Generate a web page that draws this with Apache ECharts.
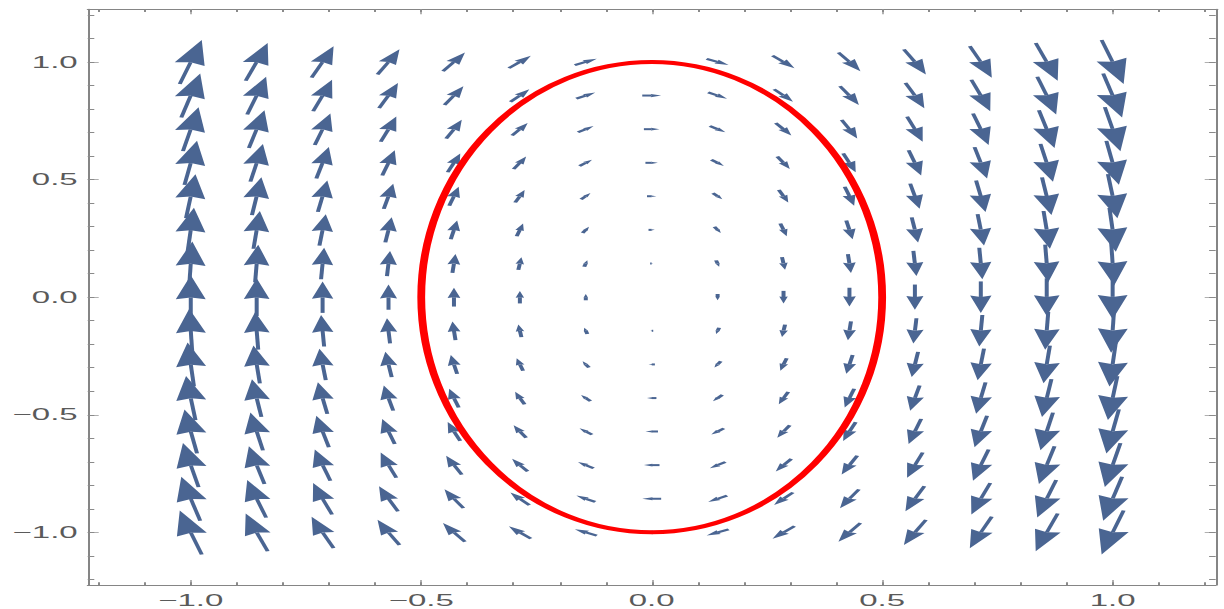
<!DOCTYPE html>
<html>
<head>
<meta charset="utf-8">
<script src="https://cdn.jsdelivr.net/npm/echarts@6/dist/echarts.min.js"></script>
<style>
html,body{margin:0;padding:0;background:#fff;overflow:hidden}
#chart{width:612px;height:609px;transform:scaleX(2);transform-origin:0 0}
</style>
</head>
<body>
<div id="chart"></div>
<script>
// ---- data ----
// grid positions of the arrows (x and y)
const gridX = [-1.0,-0.857,-0.714,-0.571,-0.429,-0.286,-0.143,0.0,0.143,0.286,0.429,0.571,0.714,0.857,1.0];
const gridY = [-1.0,-0.857,-0.714,-0.571,-0.429,-0.286,-0.143,0.0,0.143,0.286,0.429,0.571,0.714,0.857,1.0];
// horizontal vector component, one value per row (bottom to top)
const uByRow = [-1.0,-0.86,-0.71,-0.57,-0.43,-0.29,-0.14,0.0,0.14,0.29,0.43,0.57,0.71,0.86,1.0];
// vertical vector component, one value per column (left to right)
const vByCol = [4.0,3.43,2.86,2.29,1.71,1.14,0.57,0.0,-0.57,-1.14,-1.71,-2.29,-2.86,-3.43,-4.0];
// red ellipse: centre and semi-axes
const ellipseCenter = [0, 0];
const ellipseRadii = [0.5, 1.0];
// axis ticks
const axisMin = -1.2236, axisMax = 1.2236;
const majorTicks = [-1.0,-0.5,0.0,0.5,1.0];
const minorTicks = [-1.2,-1.1,-1.0,-0.9,-0.8,-0.7,-0.6,-0.5,-0.4,-0.3,-0.2,-0.1,0.0,0.1,0.2,0.3,0.4,0.5,0.6,0.7,0.8,0.9,1.0,1.1,1.2];

// ---- styles ----
const ARROW_COLOR = '#4a6592';
const PX_PER_UNIT = 11;      // screen length of a unit vector
const FRAME = '#858585';
const MAJOR_TICK = '#b0b0b0';
const MINOR_TICK = '#8a8a8a';
const LABEL = '#5a5a5a';
const FONT = 'Liberation Sans';

const arrowData = [];
for (let j = 0; j < gridY.length; j++) {
  for (let i = 0; i < gridX.length; i++) {
    arrowData.push([gridX[i], gridY[j], uByRow[j], vByCol[i]]);
  }
}

function fmt(v) {
  return v.toFixed(1).replace('-', '\u2212');
}

function arrowItem(params, api) {
  const p = api.coord([api.value(0), api.value(1)]);
  const dx = PX_PER_UNIT * api.value(2);
  const dy = -PX_PER_UNIT * api.value(3);
  const L = Math.hypot(dx, dy);
  if (L < 0.3) return null;
  const ux = dx / L, uy = dy / L, nx = -uy, ny = ux;
  const tail = [p[0] - dx / 2, p[1] - dy / 2];
  const tip = [p[0] + dx / 2, p[1] + dy / 2];
  const hl = 0.55 * L, hw = 0.34 * L;
  const base = [tip[0] - ux * hl, tip[1] - uy * hl];
  const notch = [tip[0] - ux * hl * 0.92, tip[1] - uy * hl * 0.92];
  const pts = [tip, [base[0] + nx * hw / 2, base[1] + ny * hw / 2], notch, [base[0] - nx * hw / 2, base[1] - ny * hw / 2]];
  return {
    type: 'group',
    children: [
      { type: 'line', shape: { x1: tail[0], y1: tail[1], x2: notch[0], y2: notch[1] },
        style: { stroke: ARROW_COLOR, lineWidth: 2, lineCap: 'butt' } },
      { type: 'polygon', shape: { points: pts }, style: { fill: ARROW_COLOR } }
    ]
  };
}

function ellipseItem(params, api) {
  const c = api.coord([api.value(0), api.value(1)]);
  const s = api.size([api.value(2), api.value(3)]);
  const a = s[0], b = s[1];
  const d = `M ${c[0] - a} ${c[1]} A ${a} ${b} 0 1 0 ${c[0] + a} ${c[1]} A ${a} ${b} 0 1 0 ${c[0] - a} ${c[1]} Z`;
  return { type: 'path', shape: { pathData: d }, style: { fill: 'none', stroke: '#ff0000', lineWidth: 3.9 } };
}

function axis(position, ticks, len, tickColor, showLine, showLabel, margin) {
  return {
    type: 'value', min: axisMin, max: axisMax, position: position,
    axisLine: { show: showLine, onZero: false, lineStyle: { color: FRAME, width: 1 } },
    splitLine: { show: false },
    axisTick: { show: true, inside: true, length: len, customValues: ticks, lineStyle: { color: tickColor, width: 1 } },
    axisLabel: showLabel ? { show: true, customValues: majorTicks, formatter: fmt, margin: margin,
      color: LABEL, fontFamily: FONT, fontSize: 16.5 } : { show: false }
  };
}

const chart = echarts.init(document.getElementById('chart'), null, { renderer: 'svg' });
chart.setOption({
  animation: false,
  backgroundColor: '#ffffff',
  grid: { left: 43.85, right: 4.15, top: 9.3, bottom: 24, containLabel: false, outerBoundsMode: 'none' },
  xAxis: [
    axis('bottom', majorTicks, 5, MAJOR_TICK, true, true, 7),
    axis('bottom', minorTicks, 2.7, MINOR_TICK, false, false),
    axis('top', majorTicks, 5, MAJOR_TICK, true, false),
    axis('top', minorTicks, 2.7, MINOR_TICK, false, false)
  ],
  yAxis: [
    axis('left', majorTicks, 5.5, MAJOR_TICK, true, true, 5),
    axis('left', minorTicks, 3.3, MINOR_TICK, false, false),
    axis('right', majorTicks, 5.5, MAJOR_TICK, true, false),
    axis('right', minorTicks, 3.3, MINOR_TICK, false, false)
  ],
  series: [
    { type: 'custom', name: 'field', xAxisIndex: 0, yAxisIndex: 0, data: arrowData, renderItem: arrowItem, silent: true, z: 2 },
    { type: 'custom', name: 'ellipse', xAxisIndex: 0, yAxisIndex: 0,
      data: [[ellipseCenter[0], ellipseCenter[1], ellipseRadii[0], ellipseRadii[1]]], renderItem: ellipseItem, silent: true, z: 3 }
  ]
});
</script>
</body>
</html>
